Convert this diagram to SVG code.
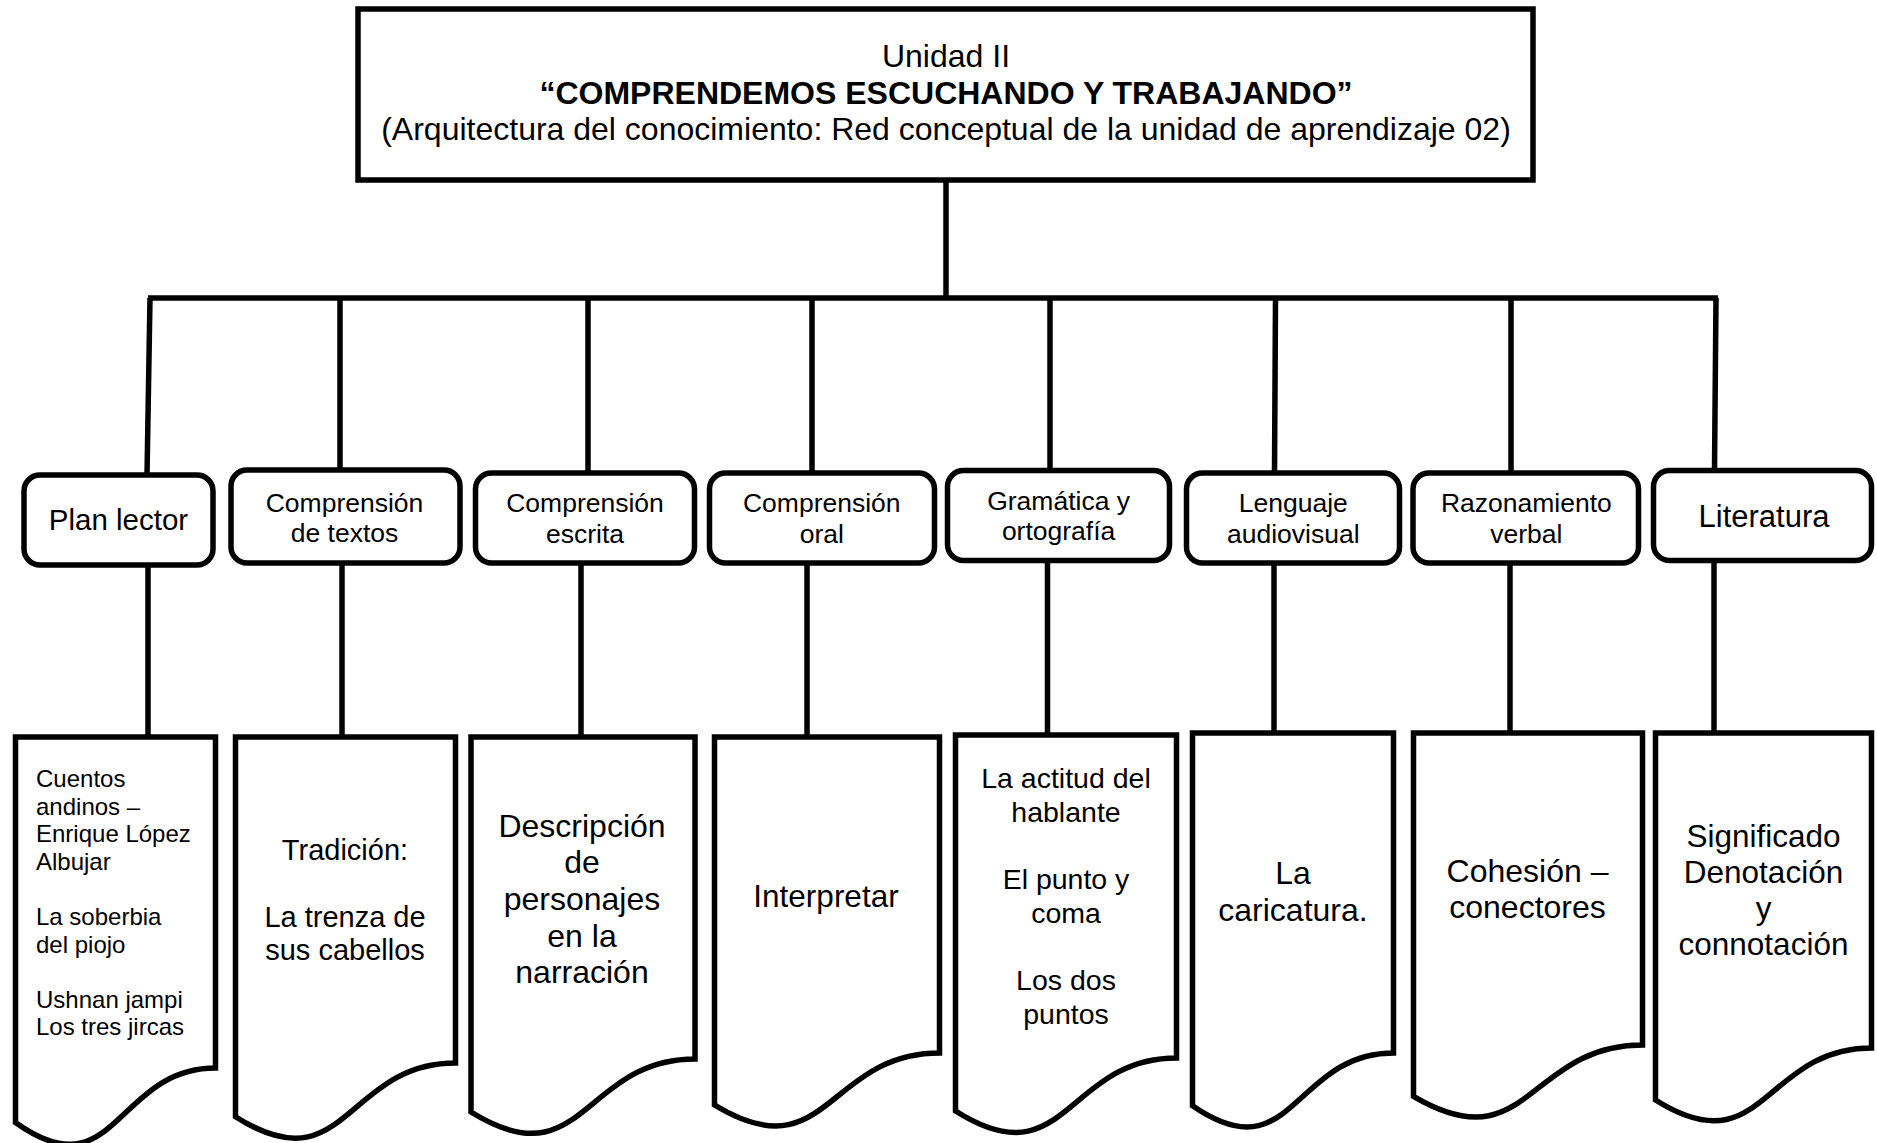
<svg xmlns="http://www.w3.org/2000/svg" width="1877" height="1143" viewBox="0 0 1877 1143">
<style>
.box{fill:#fff;stroke:#000;stroke-width:5.5;stroke-linejoin:round}
.doc{fill:#fff;stroke:#000;stroke-width:5.5;stroke-linejoin:miter}
.ln{fill:none;stroke:#000;stroke-width:5.5;stroke-linecap:butt}
text{font-family:"Liberation Sans",Arial,sans-serif;fill:#000}
.c{text-anchor:middle}
.t32{font-size:32px}
.s26{font-size:26.5px}
</style>
<rect width="1877" height="1143" fill="#fff"/>
<g id="connectors">
  <path class="ln" d="M946,180 V298"/>
  <path class="ln" d="M148,298 H1718"/>
  <path class="ln" d="M150,298 L147,475"/>
  <path class="ln" d="M340,298 V470"/>
  <path class="ln" d="M588,298 V473"/>
  <path class="ln" d="M812,298 V473"/>
  <path class="ln" d="M1050,298 V470"/>
  <path class="ln" d="M1275.5,298 L1274.5,473"/>
  <path class="ln" d="M1511,298 V473"/>
  <path class="ln" d="M1716,298 L1714.5,470"/>
  <path class="ln" d="M148,565 V737"/>
  <path class="ln" d="M342,563 V737"/>
  <path class="ln" d="M581,563 V737"/>
  <path class="ln" d="M807,563 V737"/>
  <path class="ln" d="M1047.5,560 V735"/>
  <path class="ln" d="M1274,563 V733"/>
  <path class="ln" d="M1510,563 V733"/>
  <path class="ln" d="M1714,560 V733"/>
</g>
<g id="title">
  <rect x="358" y="9" width="1175" height="171" fill="#fff" stroke="#000" stroke-width="5.5"/>
  <text class="c t32" x="946" y="67">Unidad II</text>
  <text class="c t32" x="946" y="104" font-weight="bold">“COMPRENDEMOS ESCUCHANDO Y TRABAJANDO”</text>
  <text class="c t32" x="946" y="140">(Arquitectura del conocimiento: Red conceptual de la unidad de aprendizaje 02)</text>
</g>
<g id="plan-lector">
  <rect class="box" x="24" y="475" width="189" height="90" rx="16"/>
  <text class="c" x="118.5" y="530" font-size="29.5">Plan lector</text>
</g>
<g id="comprension-textos">
  <rect class="box" x="231" y="470" width="229" height="93" rx="16"/>
  <text class="c s26" x="344.5" y="511.7">Comprensión</text>
  <text class="c s26" x="344.5" y="541.7">de textos</text>
</g>
<g id="comprension-escrita">
  <rect class="box" x="475.5" y="473" width="219" height="90" rx="16"/>
  <text class="c s26" x="585" y="511.7">Comprensión</text>
  <text class="c s26" x="585" y="543">escrita</text>
</g>
<g id="comprension-oral">
  <rect class="box" x="709.5" y="473" width="225" height="90" rx="16"/>
  <text class="c s26" x="821.8" y="511.7">Comprensión</text>
  <text class="c s26" x="821.8" y="543">oral</text>
</g>
<g id="gramatica">
  <rect class="box" x="947.5" y="470.5" width="222" height="90" rx="16"/>
  <text class="c s26" x="1058.6" y="510">Gramática y</text>
  <text class="c s26" x="1058.6" y="540">ortografía</text>
</g>
<g id="lenguaje-audiovisual">
  <rect class="box" x="1186.5" y="473" width="213" height="90" rx="16"/>
  <text class="c s26" x="1293.3" y="511.7">Lenguaje</text>
  <text class="c s26" x="1293.3" y="543.3">audiovisual</text>
</g>
<g id="razonamiento-verbal">
  <rect class="box" x="1413" y="473" width="225.5" height="90" rx="16"/>
  <text class="c s26" x="1526.4" y="511.7">Razonamiento</text>
  <text class="c s26" x="1526.4" y="543.3">verbal</text>
</g>
<g id="literatura">
  <rect class="box" x="1653.5" y="470.5" width="218" height="90" rx="16"/>
  <text class="c" x="1764" y="526.7" font-size="31">Literatura</text>
</g>
<g id="doc-plan-lector">
  <path class="doc" d="M15.5,737 H215.5 V1068 C115.5,1068 115.5,1194 15.5,1122.5 Z"/>
  <g font-size="24">
    <text x="36" y="787">Cuentos</text>
    <text x="36" y="814.6">andinos –</text>
    <text x="36" y="842.2">Enrique López</text>
    <text x="36" y="869.8">Albujar</text>
    <text x="36" y="925">La soberbia</text>
    <text x="36" y="952.6">del piojo</text>
    <text x="36" y="1007.8">Ushnan jampi</text>
    <text x="36" y="1035.4">Los tres jircas</text>
  </g>
</g>
<g id="doc-comprension-textos">
  <path class="doc" d="M235.5,737 H455.5 V1063 C345.5,1063 345.5,1187 235.5,1116.7 Z"/>
  <g class="c" font-size="29">
    <text x="345" y="860">Tradición:</text>
    <text x="345" y="927">La trenza de</text>
    <text x="345" y="960">sus cabellos</text>
  </g>
</g>
<g id="doc-comprension-escrita">
  <path class="doc" d="M471,737 H695 V1059 C583,1059 583,1181.7 471,1112 Z"/>
  <g class="c t32">
    <text x="582" y="836.7">Descripción</text>
    <text x="582" y="873">de</text>
    <text x="582" y="910">personajes</text>
    <text x="582" y="946.7">en la</text>
    <text x="582" y="983">narración</text>
  </g>
</g>
<g id="doc-comprension-oral">
  <path class="doc" d="M714.5,737 H939.5 V1053 C827,1053 827,1173.4 714.5,1105 Z"/>
  <text class="c" x="826" y="906.7" font-size="31.5">Interpretar</text>
</g>
<g id="doc-gramatica">
  <path class="doc" d="M955.5,735 H1176.5 V1058 C1066,1058 1066,1181 955.5,1111 Z"/>
  <g class="c" font-size="28.5">
    <text x="1066" y="788">La actitud del</text>
    <text x="1066" y="822">hablante</text>
    <text x="1066" y="889">El punto y</text>
    <text x="1066" y="923">coma</text>
    <text x="1066" y="990">Los dos</text>
    <text x="1066" y="1024">puntos</text>
  </g>
</g>
<g id="doc-lenguaje-audiovisual">
  <path class="doc" d="M1192.5,733 H1393.5 V1053 C1293,1053 1293,1175 1192.5,1105.7 Z"/>
  <g class="c t32">
    <text x="1293" y="884">La</text>
    <text x="1293" y="921">caricatura.</text>
  </g>
</g>
<g id="doc-razonamiento-verbal">
  <path class="doc" d="M1413.5,733 H1642.5 V1045 C1528,1045 1528,1163.8 1413.5,1096.3 Z"/>
  <g class="c t32">
    <text x="1527.5" y="881.7">Cohesión –</text>
    <text x="1527.5" y="918">conectores</text>
  </g>
</g>
<g id="doc-literatura">
  <path class="doc" d="M1655.5,733 H1871.5 V1048 C1763.5,1048 1763.5,1168 1655.5,1100 Z"/>
  <g class="c" font-size="31.5">
    <text x="1763.5" y="846.7">Significado</text>
    <text x="1763.5" y="883">Denotación</text>
    <text x="1763.5" y="919">y</text>
    <text x="1763.5" y="955">connotación</text>
  </g>
</g>
</svg>
